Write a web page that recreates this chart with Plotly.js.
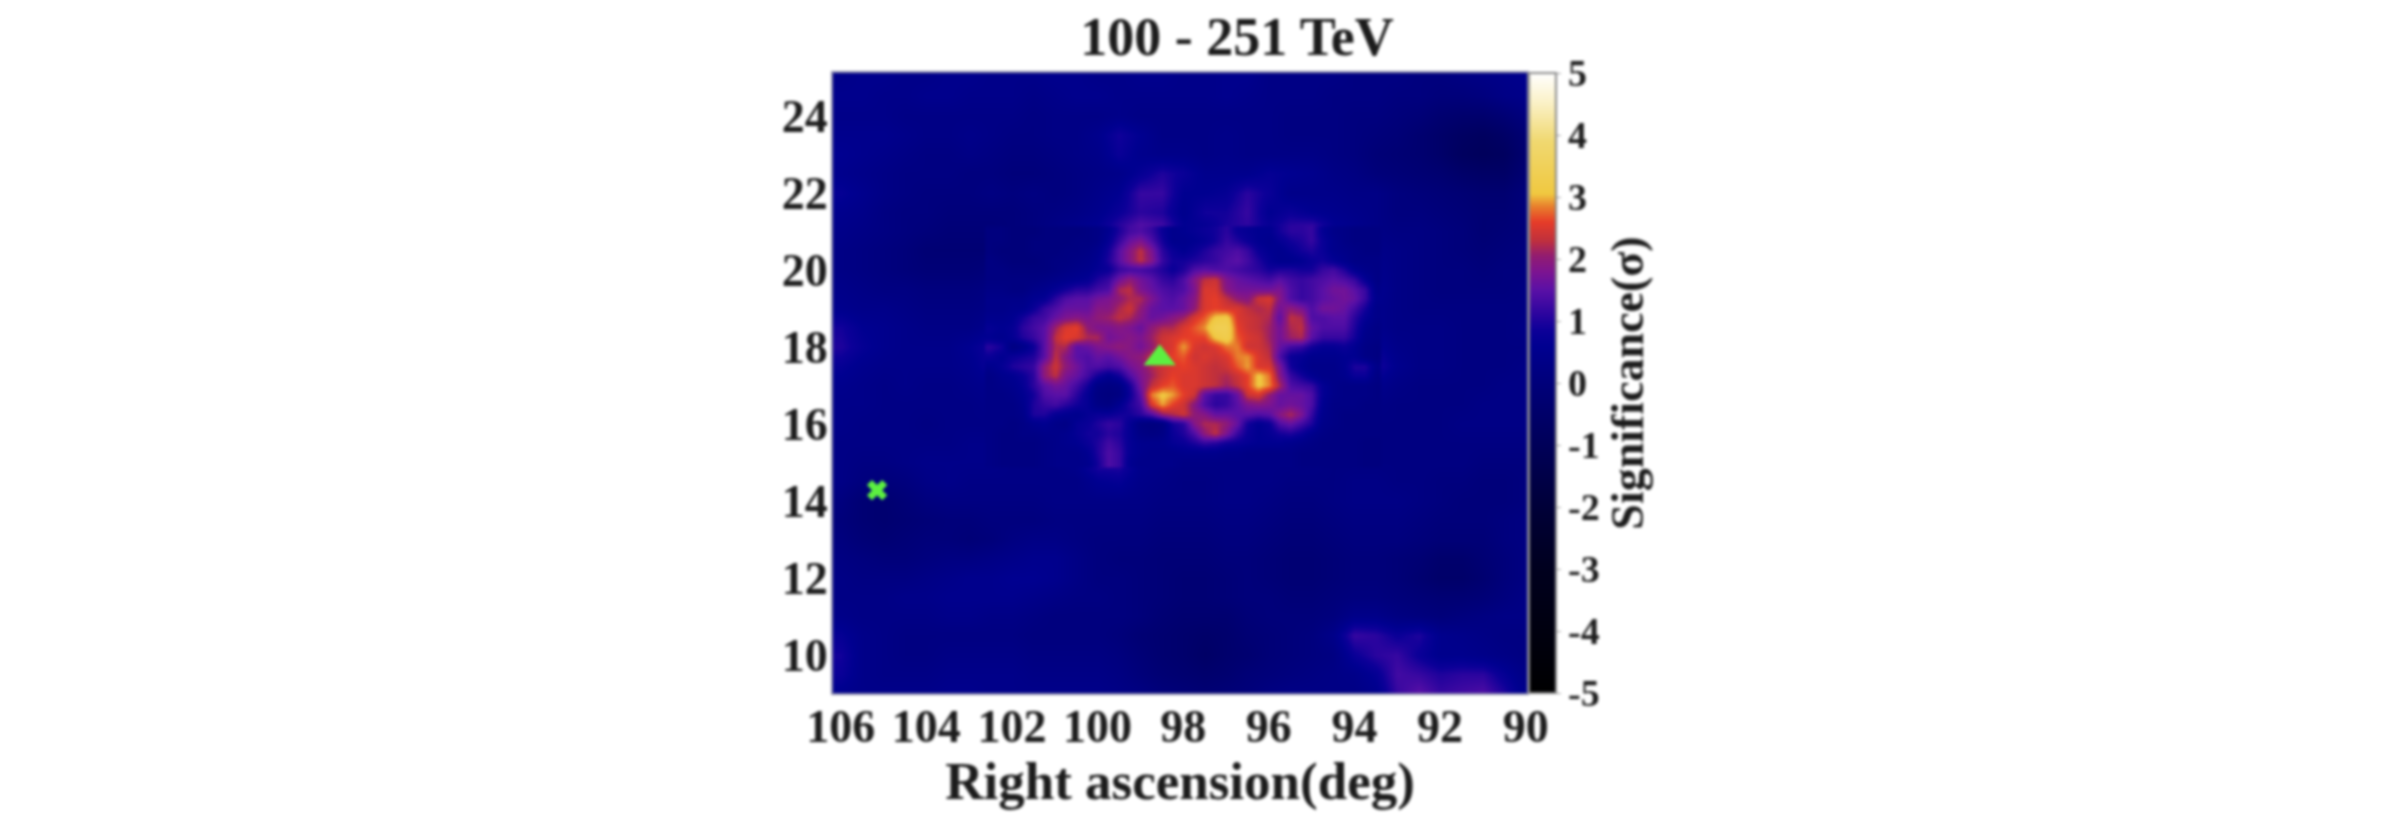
<!DOCTYPE html>
<html>
<head>
<meta charset="utf-8">
<script src="https://cdn.plot.ly/plotly-3.0.1.min.js"></script>
<style>
  html, body { margin: 0; padding: 0; background: #fff; }
  #chart { width: 2400px; height: 816px; filter: blur(1.6px); }
</style>
</head>
<body>
<div id="chart"></div>
<script>
// right ascension, 106 -> 90, every 0.5 deg
const ra = [106,105.5,105,104.5,104,103.5,103,102.5,102,101.5,101,100.5,100,99.5,99,98.5,98,97.5,97,96.5,96,95.5,95,94.5,94,93.5,93,92.5,92,91.5,91,90.5,90];
// declination, 25 -> 9, every 0.5 deg
const dec = [25,24.5,24,23.5,23,22.5,22,21.5,21,20.5,20,19.5,19,18.5,18,17.5,17,16.5,16,15.5,15,14.5,14,13.5,13,12.5,12,11.5,11,10.5,10,9.5,9];

// significance, one row per declination
const significance = [
  [.4,.5,.5,.4,.4,.5,.5,.4,.4,.4,.5,.5,.4,.4,.5,.5,.4,.4,.5,.5,.3,.3,.3,.3,.2,.2,.2,.1,.1,.2,.3,.4,.5],
  [.5,.5,.4,.4,.5,.5,.4,.4,.4,.3,.4,.5,.5,.4,.4,.4,.4,.4,.5,.4,.3,.3,.3,.2,.2,.2,.1,.1,0,0,.1,.3,.4],
  [.4,.4,.4,.3,.3,.3,.3,.3,.3,.2,.3,.3,.3,.4,.3,.3,.3,.3,.3,.3,.3,.2,.2,.2,.1,.1,0,-.1,-.3,-.4,-.4,-.2,.1],
  [.5,.5,.5,.4,.3,.3,.4,.3,.2,.2,.3,.3,.5,.9,.6,.3,.3,.3,.4,.3,.3,.2,.2,.2,.1,0,-.1,-.3,-.5,-.7,-.8,-.6,-.2],
  [.6,.5,.4,.3,.2,.2,.3,.2,.1,.1,.2,.3,.4,.8,.5,.4,.4,.3,.4,.3,.3,.3,.3,.2,.1,-.1,-.2,-.3,-.5,-.8,-.9,-.8,-.3],
  [.5,.4,.3,.2,.2,.2,.1,.1,0,0,.1,.2,.3,.4,.7,1,.8,.5,.5,.5,.7,.6,.5,.3,.2,0,-.1,-.2,-.3,-.5,-.6,-.6,-.2],
  [.7,.5,.3,.2,.1,.1,.1,.2,.1,.2,.1,.2,.4,.6,1.2,1.2,.6,.6,.7,1.1,.8,.4,.4,.4,.3,.3,.1,0,-.1,-.2,-.3,-.3,0],
  [.5,.4,.2,.1,.1,0,0,0,0,.1,.2,.3,.5,.8,1.1,1,.5,.9,.9,1.2,.6,.8,.6,.5,.4,.3,.1,.1,0,-.1,-.2,-.2,0],
  [.4,.3,.2,.1,0,-.1,-.1,-.1,0,.1,.3,.5,.7,1.2,1.6,1.4,.7,.6,1,1.1,.8,1.2,1.4,.7,.5,.3,.2,.2,.1,0,-.2,-.1,0],
  [.3,.2,.1,0,-.2,-.2,-.2,-.2,0,.1,.4,.5,.7,1.4,2.2,1.5,.8,1,1.2,1.4,1.1,1.3,1.2,.8,.6,.4,.3,.2,.1,0,-.1,0,.1],
  [.3,.2,.1,0,-.1,-.1,-.1,0,.1,.3,.5,.7,1,1.4,1.5,1.1,1.2,1.7,1.7,1.7,1.5,1.4,1.6,1.5,.9,.5,.3,.2,.1,.1,0,.1,.1],
  [.4,.3,.2,.2,.1,.1,.1,.2,.3,.5,.7,1.2,1.5,2.2,1.8,1.3,1.5,2.4,1.9,1.9,2.3,1.7,1.5,1.7,1.3,.6,.3,.2,.1,.1,.1,.1,.2],
  [.5,.4,.4,.3,.2,.2,.2,.3,.5,1.1,1.3,1.7,1.8,2.3,2,1.5,1.8,2.7,2.8,2.3,2.5,2.2,1.8,1.5,.9,.5,.3,.2,.2,.2,.2,.2,.2],
  [.9,.6,.5,.4,.3,.3,.3,.5,.9,1.2,2,2.6,2,1.8,1.8,2.1,2.3,3,3.4,2.4,1.9,2.3,1.4,1.2,.8,.5,.3,.3,.3,.2,.2,.2,.3],
  [1,.7,.5,.4,.4,.4,.6,.9,.8,1,2.3,1.8,1.7,1.8,1.9,2.4,3.1,2.5,2.6,2.7,2.1,1.8,1,.5,.4,.7,.4,.3,.3,.2,.2,.2,.2],
  [.7,.5,.4,.4,.4,.4,.5,.8,1,1.2,2.3,1.7,1.3,1.6,1.8,2.2,2.9,2.6,2.3,2.9,2.6,1.7,1.2,.6,.5,1,.5,.3,.3,.2,.2,.2,.3],
  [.5,.4,.3,.4,.3,.3,.4,.5,.6,.9,1.7,1.2,.4,.8,2,3,2.8,2.4,2,2.2,3,1.7,1.5,.5,.4,.5,.3,.2,.2,.2,.2,.3,.3],
  [.4,.4,.3,.3,.3,.3,.3,.4,.5,1.1,1,.8,.5,.9,1.3,3,2.6,2.2,1.5,1.5,1.6,2,1.7,.5,.3,.3,.2,.2,.2,.2,.3,.3,.3],
  [.4,.3,.3,.3,.2,.3,.3,.3,.4,.5,.6,1,1.2,1.1,.6,.6,1.4,2.1,2.4,1.4,1.3,1.6,1,.4,.3,.2,.2,.2,.2,.3,.3,.3,.3],
  [.3,.3,.3,.3,.3,.3,.4,.4,.3,.4,.4,.7,1.2,1.1,.5,.5,.8,1,1,.8,.6,.5,.4,.3,.2,.2,.2,.2,.2,.2,.2,.2,.2],
  [.3,.2,.2,.3,.4,.4,.4,.4,.3,.3,.3,.5,1.1,1.1,.5,.4,.3,.3,.3,.3,.3,.3,.3,.2,.2,.2,.2,.2,.2,.2,.1,.1,.1],
  [.3,.1,0,.1,.3,.4,.3,.3,.3,.3,.3,.3,.6,.7,.4,.3,.2,.2,.3,.3,.3,.2,.2,.2,.3,.3,.2,.2,.1,.1,0,0,.1],
  [.1,-.2,-.3,-.1,.1,.2,.2,.2,.2,.2,.3,.3,.3,.3,.3,.2,.2,.2,.3,.3,.2,.1,.1,.2,.3,.3,.3,.2,.1,0,0,0,.1],
  [0,-.2,-.3,-.2,-.1,0,0,.1,.1,.1,.2,.2,.2,.2,.2,.1,.1,.1,.2,.2,.1,0,0,.1,.2,.2,.2,.1,0,0,0,.1,.2],
  [.1,-.1,-.2,-.1,0,0,-.1,0,.2,.3,.3,.2,.1,.1,.1,0,0,0,.1,.1,0,-.1,-.1,0,.1,.1,.1,0,-.1,-.1,-.1,.1,.2],
  [.2,.1,0,0,.1,.2,.2,.3,.4,.5,.5,.3,.1,0,0,-.1,-.1,-.1,0,0,-.1,-.2,-.2,-.1,0,0,-.1,-.2,-.4,-.4,-.2,0,.2],
  [.3,.2,.2,.2,.3,.4,.5,.5,.6,.6,.5,.3,.1,.1,0,-.1,-.2,-.2,-.1,0,-.1,-.2,-.2,-.1,0,0,-.1,-.3,-.5,-.5,-.3,0,.2],
  [.3,.3,.3,.4,.4,.5,.5,.5,.5,.4,.3,.2,.2,.1,0,-.1,-.2,-.2,-.1,0,0,-.1,-.1,0,.1,.1,0,-.1,-.2,-.2,-.1,.1,.3],
  [.4,.3,.3,.3,.3,.4,.4,.3,.3,.2,.1,.1,.1,.1,0,-.2,-.3,-.3,-.3,-.1,0,0,0,.1,.4,.4,.2,.1,0,.1,.2,.3,.3],
  [.7,.4,.3,.2,.2,.2,.2,.2,.2,.1,.1,.1,.1,0,-.2,-.3,-.4,-.5,-.4,-.2,-.1,0,.1,.4,1.2,1.1,.8,1,.5,.4,.3,.2,.2],
  [.9,.4,.3,.2,.2,.3,.3,.3,.3,.2,.2,.2,.2,.1,-.1,-.3,-.4,-.6,-.4,-.3,-.1,0,.1,.2,.8,1.1,1.2,.8,.5,.5,.4,.3,.2],
  [.8,.4,.3,.3,.3,.4,.4,.4,.4,.3,.3,.3,.3,.2,0,-.2,-.3,-.4,-.3,-.1,0,.1,.2,.3,.4,.7,1.3,1.2,1,1.1,1.1,.7,.3],
  [.5,.4,.4,.4,.4,.5,.5,.4,.4,.4,.4,.4,.4,.3,.2,0,-.1,-.2,-.1,0,.2,.3,.3,.3,.3,.5,1.2,1.5,1.2,1.3,1.4,1,.4]
];

// finer read of the central excess, every 0.25 deg
const coreRa = [102.5,102.25,102,101.75,101.5,101.25,101,100.75,100.5,100.25,100,99.75,99.5,99.25,99,98.75,98.5,98.25,98,97.75,97.5,97.25,97,96.75,96.5,96.25,96,95.75,95.5,95.25,95,94.75,94.5,94.25,94,93.75,93.5];
const coreDec = [21,20.75,20.5,20.25,20,19.75,19.5,19.25,19,18.75,18.5,18.25,18,17.75,17.5,17.25,17,16.75,16.5,16.25,16,15.75,15.5,15.25,15];
const coreSignificance = [
  [.1,.1,0,0,0,.1,.1,.1,.1,.2,.3,.6,1,1.3,1.4,1.2,.8,.5,.6,.7,.8,.9,1.1,.8,.7,.6,.6,.9,1.1,1.1,1.2,.7,.4,.3,.2,.2,.2],
  [.1,.1,0,0,.1,.1,.1,.1,.2,.2,.3,.7,1.2,1.6,1.8,1.4,.9,.5,.5,.6,.7,.9,1.2,1,.8,.6,.5,.7,.9,1,1.2,.8,.5,.3,.2,.2,.2],
  [.1,0,0,0,.1,.1,.1,.2,.2,.3,.5,.9,1.5,1.9,2.3,1.8,1.1,.8,.6,.8,1,1.2,1.3,1.4,1.2,.8,.6,.5,.7,.9,1,.8,.5,.4,.3,.2,.2],
  [.2,.1,0,0,0,.1,.2,.2,.3,.4,.6,1,1.5,1.9,2.3,1.9,1.2,.9,.9,1,1.1,1.2,1.4,1.5,1.3,1,.7,.5,.5,.6,.8,.9,.7,.5,.3,.3,.3],
  [.2,.2,.1,.1,.1,.1,.2,.3,.4,.5,.7,.8,1.2,1.3,1.3,1.2,1,.8,1,1.4,1.5,1.4,1.4,1.3,1.2,1.1,.9,1,1,.9,.9,1.2,1.3,1,.6,.4,.3],
  [.2,.2,.2,.2,.2,.3,.4,.5,.6,.7,1,1.2,1.7,2,1.7,1.5,1.2,1.1,1.4,1.9,2.3,2.4,1.8,1.6,1.5,1.4,1.3,1.5,1.3,1.2,1.3,1.4,1.5,1.4,1.2,.7,.3],
  [.3,.3,.2,.2,.4,.5,.7,.9,1.1,1.1,1.3,1.4,2.2,2.3,1.8,1.6,1.4,1.3,1.4,1.8,2.5,2.5,1.9,1.7,1.7,1.7,1.7,1.8,1.4,1.2,1.3,1.5,1.7,1.7,1.5,1.2,.4],
  [.4,.4,.4,.4,.6,.7,1.1,1.4,1.5,1.5,1.7,1.8,2,2.2,2.2,1.8,1.5,1.4,1.6,1.9,2.5,2.6,2.3,2,1.9,2.4,2.5,1.9,1.4,1.2,1.3,1.5,1.6,1.7,1.6,1.2,.5],
  [.4,.4,.5,.5,.8,1.2,1.4,1.6,1.6,1.6,1.9,1.9,2.2,2.4,2,1.6,1.5,1.5,1.6,2,2.5,2.6,2.5,2.5,2.3,2.2,2.3,1.7,2,1.8,1.4,1.7,1.7,1.6,1.3,.9,.4],
  [.5,.5,.6,.9,1.2,1.3,1.6,1.8,1.9,1.8,2,2.1,2.3,2.2,1.9,1.6,1.7,1.9,2.1,2.5,2.7,3.1,3.2,2.5,2.4,2.3,2.2,1.5,2.3,2.2,1.4,1.4,1.5,1.5,1.1,.7,.4],
  [.7,.6,.7,1.1,1.3,1.5,2.1,2.5,2.6,2,1.8,1.8,1.9,1.8,1.6,2,2.2,2.2,2.5,2.7,2.9,3.4,3.4,2.6,2.4,2.3,2.1,1.7,2.2,2.3,1.6,1.4,1.4,1.4,1,.5,.3],
  [.6,.5,.7,1,1.2,1.5,2.3,2.6,2.5,2.2,2.2,1.7,1.8,1.9,1.8,2.1,2.4,2.5,2.6,2.6,2.6,3.1,3.3,2.7,2.5,2.4,2.1,1.7,2.1,2.2,1.5,1.2,1.2,1.2,.9,.4,.3],
  [1.1,.9,.2,.4,.8,1.5,2.2,2.2,1.5,1.6,1.8,1.9,2,1.9,1.7,2,2.4,2.5,2.95,2.5,2.4,2.5,2.8,2.85,2.4,2.4,2.2,1.6,1.3,1.2,.9,.7,.7,.8,.6,.3,.2],
  [.8,.6,.8,.9,1,1.5,2.3,1.9,1.5,1.4,1.6,1.5,1.7,1.9,2,2.3,2.4,2.6,2.7,2.4,2.5,2.4,2.5,2.85,2.9,2.5,2.3,1.4,.8,.7,.5,.5,.5,.6,.6,.3,.2],
  [.5,.7,1,1.1,1.2,2,2.4,2,1.7,1.4,1.4,1.3,1.4,1.7,1.9,2.2,2.4,2.5,2.6,2.5,2.4,2.3,2.4,2.7,2.95,2.5,2.5,1.8,.9,.6,.4,.4,.4,.6,1,1,.4],
  [.3,.5,.6,.8,1.1,2,2.3,1.8,1.6,1.3,.9,.6,.9,1.4,1.8,2.1,2.4,2.6,2.5,2.5,2.4,2.3,2.2,2.4,2.6,3.1,2.8,1.9,1.2,.9,.6,.4,.4,.5,.8,.8,.3],
  [.3,.4,.5,.7,1.1,1.5,1.7,1.6,1.3,.9,.3,.2,.3,.9,1.7,2.3,2.6,2.7,2.5,2.5,2.4,2.3,2.1,2.3,2.6,3.1,2.85,2.2,1.4,1.3,1.2,.7,.4,.3,.3,.3,.2],
  [.3,.3,.4,.6,.9,1.4,1.5,1.5,1.1,.7,.2,.1,.2,.8,1.5,2.85,3.1,2.95,2.6,2.4,1.5,1.2,1.2,1.6,2.4,2.5,2,1.6,1.6,1.6,1.4,.7,.4,.3,.3,.3,.2],
  [.3,.3,.3,.5,1,1.2,1.3,1.1,.9,.7,.3,.2,.6,1,1.3,2.5,2.95,2.6,2.4,1.9,1.4,1.1,1.2,1.5,1.8,1.9,1.8,1.6,1.7,1.6,1.4,.6,.3,.3,.3,.2,.2],
  [.3,.3,.3,.4,1,1,.7,.6,.5,.7,.8,.8,.9,.9,1.1,1.4,2,2.2,2.4,2,1.9,1.6,1.6,1.5,1.5,1.4,1.5,1.9,2.2,1.8,1.2,.5,.3,.2,.2,.2,.2],
  [.3,.3,.2,.3,.5,.6,.4,.3,.7,.8,1,1.2,1.1,.7,.2,.1,.2,.9,1.1,1.9,2.2,2.2,2,1.6,.9,.6,.8,1.4,1.6,1.3,1,.4,.3,.2,.2,.2,.2],
  [.3,.2,.2,.3,.3,.4,.4,.5,.7,.9,.9,1.1,1,.7,.3,.2,.3,.8,1,1.4,2,2.3,1.8,1.2,.8,.6,.7,.9,1,.8,.5,.3,.2,.2,.2,.2,.2],
  [.3,.2,.2,.2,.2,.3,.4,.5,.6,.8,1,1.3,1.1,.7,.5,.5,.5,.7,.8,1,1.2,1.1,.9,.8,.7,.6,.6,.6,.5,.4,.3,.2,.2,.2,.2,.1,.1],
  [.3,.2,.2,.2,.2,.3,.4,.4,.4,.6,1,1.4,1.2,.7,.5,.4,.4,.4,.5,.5,.5,.5,.4,.4,.3,.3,.3,.3,.3,.2,.2,.2,.2,.2,.2,.1,.1],
  [.3,.2,.2,.2,.2,.3,.4,.4,.4,.5,.9,1.4,1.2,.6,.4,.4,.4,.4,.3,.3,.3,.3,.3,.3,.3,.3,.3,.3,.3,.2,.2,.2,.2,.2,.2,.1,.1]
];

const raTicks = [106,104,102,100,98,96,94,92,90];
const decTicks = [10,12,14,16,18,20,22,24];
const sigTicks = [-5,-4,-3,-2,-1,0,1,2,3,4,5];

const triangleRa = [98.55], triangleDec = [17.7];
const crossRa = [105.15], crossDec = [14.27];

// colour stops go from -5 to 5
const sigStops = [-5,-3,-2,-1,0,0.6,0.85,1.1,1.5,1.8,2.05,2.3,2.6,2.85,3.05,3.9,4.5,5];
const sigColors = ['#000000','#00001e','#000038','#000058','#00007a','#000090','#0c0098','#2a049e','#5a10a6','#7d1490','#921c70','#c0303c','#e63c28','#e8802c','#f0c840','#f0d870','#faf0c4','#ffffff'];
const colorscale = sigStops.map((s, i) => [(s + 5) / 10, sigColors[i]]);

const serif = '"Liberation Serif", serif';
const ink = '#1c1c1c';

const map = {
  type: 'heatmap',
  x: ra,
  y: dec,
  z: significance,
  zmin: -5,
  zmax: 5,
  zsmooth: 'best',
  colorscale: colorscale,
  colorbar: {
    x: 1.0,
    xanchor: 'left',
    xpad: 2,
    ypad: 0,
    y: 0.5,
    len: 1,
    thickness: 27,
    outlinecolor: '#888888',
    outlinewidth: 2,
    tickmode: 'array',
    tickvals: sigTicks,
    ticktext: sigTicks.map(String),
    ticks: 'outside',
    ticklen: 4,
    tickcolor: '#999999',
    tickfont: { family: serif, size: 38, color: ink, weight: 'bold' },
    title: {
      text: 'Significance(σ)',
      side: 'right',
      font: { family: serif, size: 46, color: ink, weight: 'bold' }
    }
  }
};

const core = {
  type: 'heatmap',
  x: coreRa,
  y: coreDec,
  z: coreSignificance,
  zmin: -5,
  zmax: 5,
  zsmooth: 'best',
  colorscale: colorscale,
  showscale: false
};

const triangle = {
  type: 'scatter',
  mode: 'markers',
  x: triangleRa,
  y: triangleDec,
  marker: { symbol: 'triangle-up', size: 28, color: '#5cf040' },
  showlegend: false
};

const cross = {
  type: 'scatter',
  mode: 'markers',
  x: crossRa,
  y: crossDec,
  marker: { symbol: 'x', size: 18, color: '#5cf040' },
  showlegend: false
};

const layout = {
  width: 2400,
  height: 816,
  paper_bgcolor: '#ffffff',
  plot_bgcolor: '#00008a',
  showlegend: false,
  margin: { l: 833, r: 873, t: 73, b: 123, autoexpand: false },
  title: {
    text: '100 - 251 TeV',
    x: 1237 / 2400,
    xanchor: 'center',
    y: 1 - 36 / 816,
    yanchor: 'middle',
    font: { family: serif, size: 54, color: ink, weight: 'bold' }
  },
  xaxis: {
    range: [106.18, 89.97],
    tickmode: 'array',
    tickvals: raTicks,
    ticks: '',
    ticklabelstandoff: -8,
    showgrid: false,
    zeroline: false,
    showline: true,
    mirror: true,
    linecolor: '#8888aa',
    linewidth: 2,
    tickfont: { family: serif, size: 46, color: ink, weight: 'bold' },
    title: {
      text: 'Right ascension(deg)',
      standoff: 0,
      font: { family: serif, size: 53, color: ink, weight: 'bold' }
    }
  },
  yaxis: {
    range: [9, 25.11],
    tickmode: 'array',
    tickvals: decTicks,
    ticks: '',
    ticklabelstandoff: -6,
    showgrid: false,
    zeroline: false,
    showline: true,
    mirror: true,
    linecolor: '#8888aa',
    linewidth: 2,
    tickfont: { family: serif, size: 46, color: ink, weight: 'bold' }
  }
};

Plotly.newPlot('chart', [map, core, triangle, cross], layout, { displayModeBar: false });
</script>
</body>
</html>
